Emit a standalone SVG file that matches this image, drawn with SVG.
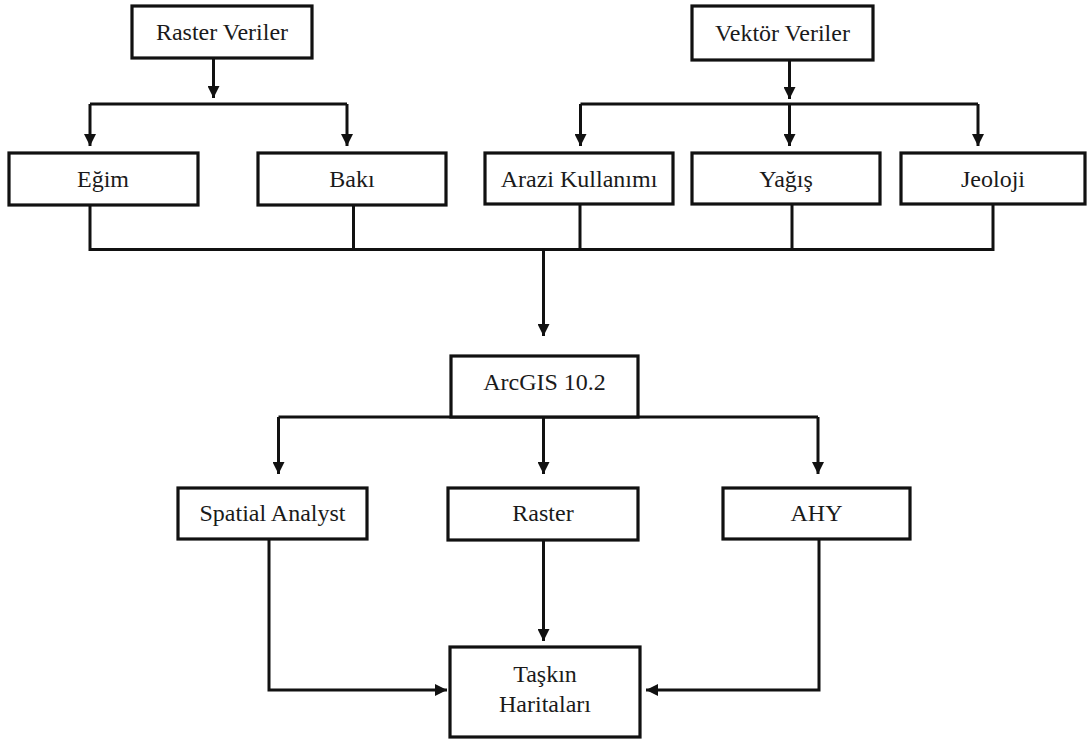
<svg xmlns="http://www.w3.org/2000/svg" width="1087" height="742" viewBox="0 0 1087 742">
<defs>
<style>
.box{fill:#fff;stroke:#111;stroke-width:3.2}
.lbl{font-family:"Liberation Serif","Times New Roman",serif;font-size:24px;fill:#1a1a1a;text-anchor:middle;dominant-baseline:central}
.ln{fill:none;stroke:#111;stroke-width:3}
.ar{fill:none;stroke:#111;stroke-width:3;marker-end:url(#ah)}
</style>
<marker id="ah" markerUnits="userSpaceOnUse" markerWidth="12" markerHeight="12" refX="12" refY="6" orient="auto">
<path d="M0,0 L12,6 L0,12 z" fill="#111"/>
</marker>
</defs>
<rect width="1087" height="742" fill="#fff"/>
<g id="connectors">
<path class="ar" d="M213.5,58 V98"/>
<path class="ln" d="M90,104 H347"/>
<path class="ar" d="M90,104 V146"/>
<path class="ar" d="M347,104 V146"/>
<path class="ar" d="M789.5,60 V99"/>
<path class="ln" d="M580.5,104 H978"/>
<path class="ar" d="M580.5,104 V146"/>
<path class="ar" d="M789.5,104 V146"/>
<path class="ar" d="M978,104 V146"/>
<path class="ln" d="M90,205 V249.5 H993 V204"/>
<path class="ln" d="M353.5,205 V249.5"/>
<path class="ln" d="M580,204 V249.5"/>
<path class="ln" d="M792,204 V249.5"/>
<path class="ar" d="M543.5,249.5 V336"/>
<path class="ln" d="M278.5,417 H818"/>
<path class="ar" d="M278.5,417 V474"/>
<path class="ar" d="M543.5,417 V474"/>
<path class="ar" d="M818,417 V474"/>
<path class="ar" d="M269,539 V690 H447"/>
<path class="ar" d="M543.5,540 V641"/>
<path class="ar" d="M819,539 V690 H646"/>
</g>
<g id="raster-veriler"><rect class="box" x="132" y="6" width="180" height="52"/><text class="lbl" x="222" y="32">Raster Veriler</text></g>
<g id="vektor-veriler"><rect class="box" x="692" y="6" width="181" height="54"/><text class="lbl" x="782.5" y="33">Vektör Veriler</text></g>
<g id="egim"><rect class="box" x="9" y="153" width="189" height="52"/><text class="lbl" x="103" y="179">Eğim</text></g>
<g id="baki"><rect class="box" x="258" y="153" width="188" height="52"/><text class="lbl" x="352" y="179">Bakı</text></g>
<g id="arazi"><rect class="box" x="485" y="153" width="188" height="51"/><text class="lbl" x="579" y="179">Arazi Kullanımı</text></g>
<g id="yagis"><rect class="box" x="692" y="153" width="188" height="51"/><text class="lbl" x="786" y="179">Yağış</text></g>
<g id="jeoloji"><rect class="box" x="901" y="153" width="184" height="51"/><text class="lbl" x="993" y="179">Jeoloji</text></g>
<g id="arcgis"><rect class="box" x="451" y="356" width="187" height="61"/><text class="lbl" x="544.5" y="382">ArcGIS 10.2</text></g>
<g id="spatial"><rect class="box" x="178" y="488" width="189" height="51"/><text class="lbl" x="272.5" y="513">Spatial Analyst</text></g>
<g id="raster"><rect class="box" x="448" y="488" width="190" height="52"/><text class="lbl" x="543" y="513">Raster</text></g>
<g id="ahy"><rect class="box" x="723" y="488" width="187" height="51"/><text class="lbl" x="816.5" y="513">AHY</text></g>
<g id="taskin"><rect class="box" x="450" y="647" width="190" height="90"/><text class="lbl" x="545" y="674">Taşkın</text><text class="lbl" x="545" y="704">Haritaları</text></g>
</svg>
